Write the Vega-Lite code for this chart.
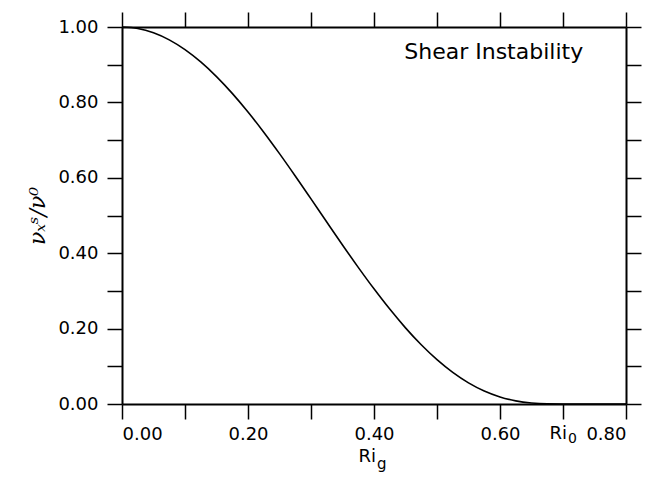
{
  "$schema": "https://vega.github.io/schema/vega-lite/v6.json",
  "autosize": "none",
  "width": 504,
  "height": 377,
  "padding": {"left": 122, "top": 27, "right": 25, "bottom": 78},
  "background": "white",
  "config": {
    "view": {"stroke": null},
    "font": "DejaVu Sans",
    "axis": {
      "grid": false,
      "domainColor": "black",
      "domainWidth": 2,
      "tickColor": "black",
      "tickWidth": 1.5,
      "tickSize": 15,
      "labelColor": "black",
      "labelFont": "DejaVu Sans",
      "labelFontSize": 18,
      "titleColor": "black"
    }
  },
  "data": {
    "values": [
      {"ri": 0.0, "nu": 1.0},
      {"ri": 0.025, "nu": 0.996177},
      {"ri": 0.05, "nu": 0.984772},
      {"ri": 0.075, "nu": 0.965954},
      {"ri": 0.1, "nu": 0.940016},
      {"ri": 0.125, "nu": 0.907355},
      {"ri": 0.15, "nu": 0.868474},
      {"ri": 0.175, "nu": 0.823975},
      {"ri": 0.2, "nu": 0.77455},
      {"ri": 0.225, "nu": 0.720971},
      {"ri": 0.25, "nu": 0.66408},
      {"ri": 0.275, "nu": 0.604773},
      {"ri": 0.3, "nu": 0.543991},
      {"ri": 0.325, "nu": 0.482699},
      {"ri": 0.35, "nu": 0.421875},
      {"ri": 0.375, "nu": 0.362482},
      {"ri": 0.4, "nu": 0.30546},
      {"ri": 0.425, "nu": 0.251691},
      {"ri": 0.45, "nu": 0.201988},
      {"ri": 0.475, "nu": 0.157063},
      {"ri": 0.5, "nu": 0.117502},
      {"ri": 0.525, "nu": 0.08374},
      {"ri": 0.55, "nu": 0.056029},
      {"ri": 0.575, "nu": 0.034409},
      {"ri": 0.6, "nu": 0.018674},
      {"ri": 0.625, "nu": 0.008341},
      {"ri": 0.65, "nu": 0.002614},
      {"ri": 0.675, "nu": 0.000345},
      {"ri": 0.7, "nu": 0.0},
      {"ri": 0.75, "nu": 0.0},
      {"ri": 0.8, "nu": 0.0}
    ]
  },
  "layer": [
    {
      "mark": {"type": "line", "color": "black", "strokeWidth": 1.6, "interpolate": "monotone"},
      "encoding": {
        "x": {
          "field": "ri", "type": "quantitative",
          "scale": {"domain": [0, 0.8], "nice": false, "zero": false},
          "axis": {
            "orient": "bottom",
            "values": [0, 0.1, 0.2, 0.3, 0.4, 0.5, 0.6, 0.7, 0.8],
            "labelExpr": "abs(datum.value-0.7)<0.001 ? '' : (round(datum.value*10)%2==0 ? format(datum.value,'.2f') : '')",
            "labelPadding": 6,
            "labelOverlap": false,
            "title": null
          }
        },
        "y": {
          "field": "nu", "type": "quantitative",
          "scale": {"domain": [0, 1], "nice": false},
          "axis": {
            "orient": "left",
            "values": [0, 0.1, 0.2, 0.3, 0.4, 0.5, 0.6, 0.7, 0.8, 0.9, 1.0],
            "labelExpr": "round(datum.value*10)%2==0 ? format(datum.value,'.2f') : ''",
            "labelPadding": 9,
            "labelOverlap": false,
            "title": "νₓˢ/ν⁰",
            "titleFont": "DejaVu Serif",
            "titleFontStyle": "italic",
            "titleFontWeight": "normal",
            "titleFontSize": 22,
            "titlePadding": 8
          }
        }
      }
    },
    {
      "mark": {"type": "point", "opacity": 0},
      "encoding": {
        "x": {
          "field": "ri", "type": "quantitative",
          "scale": {"domain": [0, 0.8], "nice": false, "zero": false},
          "axis": {
            "orient": "top",
            "values": [0, 0.1, 0.2, 0.3, 0.4, 0.5, 0.6, 0.7, 0.8],
            "labels": false,
            "title": null
          }
        },
        "y": {
          "field": "nu", "type": "quantitative",
          "scale": {"domain": [0, 1], "nice": false},
          "axis": {
            "orient": "right",
            "values": [0, 0.1, 0.2, 0.3, 0.4, 0.5, 0.6, 0.7, 0.8, 0.9, 1.0],
            "labels": false,
            "title": null
          }
        }
      }
    },
    {
      "data": {"values": [{"label": "Shear Instability"}]},
      "mark": {"type": "text", "font": "DejaVu Sans", "fontSize": 22, "color": "black", "align": "center", "baseline": "middle"},
      "encoding": {
        "text": {"field": "label"},
        "x": {"datum": 0.59, "type": "quantitative", "axis": null},
        "y": {"datum": 0.934, "type": "quantitative", "axis": null}
      }
    },
    {
      "data": {"values": [{"label": "Ri"}]},
      "mark": {"type": "text", "font": "DejaVu Sans", "fontSize": 18, "color": "black", "align": "right", "baseline": "middle", "dx": 2, "dy": 53},
      "encoding": {
        "text": {"field": "label"},
        "x": {"datum": 0.4, "type": "quantitative", "axis": null},
        "y": {"datum": 0, "type": "quantitative", "axis": null}
      }
    },
    {
      "data": {"values": [{"label": "g"}]},
      "mark": {"type": "text", "font": "DejaVu Sans", "fontSize": 15, "color": "black", "align": "left", "baseline": "middle", "dx": 3, "dy": 60},
      "encoding": {
        "text": {"field": "label"},
        "x": {"datum": 0.4, "type": "quantitative", "axis": null},
        "y": {"datum": 0, "type": "quantitative", "axis": null}
      }
    },
    {
      "data": {"values": [{"label": "Ri"}]},
      "mark": {"type": "text", "font": "DejaVu Sans", "fontSize": 18, "color": "black", "align": "right", "baseline": "middle", "dx": 4, "dy": 30},
      "encoding": {
        "text": {"field": "label"},
        "x": {"datum": 0.7, "type": "quantitative", "axis": null},
        "y": {"datum": 0, "type": "quantitative", "axis": null}
      }
    },
    {
      "data": {"values": [{"label": "0"}]},
      "mark": {"type": "text", "font": "DejaVu Sans", "fontSize": 14, "color": "black", "align": "left", "baseline": "middle", "dx": 5, "dy": 35},
      "encoding": {
        "text": {"field": "label"},
        "x": {"datum": 0.7, "type": "quantitative", "axis": null},
        "y": {"datum": 0, "type": "quantitative", "axis": null}
      }
    }
  ],
  "resolve": {"axis": {"x": "independent", "y": "independent"}}
}
